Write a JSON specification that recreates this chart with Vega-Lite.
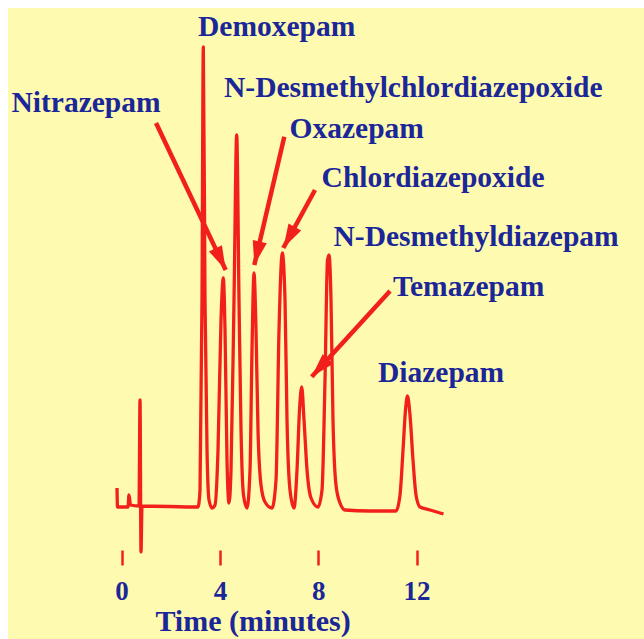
{
  "$schema": "https://vega.github.io/schema/vega-lite/v6.json",
  "width": 636,
  "height": 631,
  "autosize": {"type": "none"},
  "padding": {"left": 8, "top": 8, "right": 0, "bottom": 0},
  "background": "#FFFFFF",
  "config": {"view": {"fill": "#FEFBB0", "stroke": null}},
  "datasets": {
    "trace": [
      {"t": -0.187, "v": 18}, {"t": -0.167, "v": -1}, {"t": 0.26, "v": -1}, {"t": 0.30, "v": 11},
      {"t": 0.362, "v": 1}, {"t": 0.708, "v": 0}, {"t": 0.749, "v": 106}, {"t": 0.789, "v": -46},
      {"t": 0.83, "v": 0}, {"t": 3.108, "v": -1}, {"t": 3.19, "v": 16}, {"t": 3.271, "v": 206},
      {"t": 3.324, "v": 459}, {"t": 3.393, "v": 206}, {"t": 3.475, "v": 56}, {"t": 3.556, "v": 6},
      {"t": 3.678, "v": -2}, {"t": 3.8, "v": 1}, {"t": 3.922, "v": 56}, {"t": 4.044, "v": 186},
      {"t": 4.138, "v": 228}, {"t": 4.207, "v": 176}, {"t": 4.288, "v": 46}, {"t": 4.369, "v": 3},
      {"t": 4.451, "v": 36}, {"t": 4.573, "v": 206}, {"t": 4.683, "v": 371}, {"t": 4.776, "v": 206},
      {"t": 4.858, "v": 76}, {"t": 4.959, "v": 11}, {"t": 5.102, "v": -2}, {"t": 5.224, "v": 36},
      {"t": 5.305, "v": 156}, {"t": 5.386, "v": 233}, {"t": 5.468, "v": 176}, {"t": 5.549, "v": 76},
      {"t": 5.671, "v": 21}, {"t": 5.834, "v": 4}, {"t": 6.119, "v": -2}, {"t": 6.282, "v": 26},
      {"t": 6.404, "v": 176}, {"t": 6.538, "v": 253}, {"t": 6.648, "v": 206}, {"t": 6.729, "v": 86},
      {"t": 6.851, "v": 16}, {"t": 7.014, "v": -2}, {"t": 7.136, "v": 36}, {"t": 7.238, "v": 96},
      {"t": 7.327, "v": 119}, {"t": 7.421, "v": 86}, {"t": 7.543, "v": 36}, {"t": 7.706, "v": 8},
      {"t": 7.99, "v": -1}, {"t": 8.153, "v": 16}, {"t": 8.275, "v": 126}, {"t": 8.377, "v": 246},
      {"t": 8.438, "v": 251}, {"t": 8.519, "v": 206}, {"t": 8.6, "v": 86}, {"t": 8.722, "v": 21},
      {"t": 8.885, "v": 3}, {"t": 9.089, "v": -4}, {"t": 10.106, "v": -5}, {"t": 11.164, "v": -5},
      {"t": 11.327, "v": 11}, {"t": 11.449, "v": 56}, {"t": 11.55, "v": 96}, {"t": 11.631, "v": 110},
      {"t": 11.733, "v": 91}, {"t": 11.855, "v": 46}, {"t": 11.977, "v": 11}, {"t": 12.14, "v": -1},
      {"t": 12.547, "v": -4}, {"t": 13.096, "v": -8}
    ],
    "arrows": [
      {"name": "Nitrazepam", "t1": 1.4, "v1": 383, "t2": 4.235, "v2": 236},
      {"name": "Oxazepam", "t1": 6.619, "v1": 369.3, "t2": 5.399, "v2": 241},
      {"name": "Chlordiazepoxide", "t1": 7.868, "v1": 316, "t2": 6.579, "v2": 258},
      {"name": "Temazepam", "t1": 10.92, "v1": 215, "t2": 7.734, "v2": 129.3}
    ],
    "labels": [
      {"label": "Nitrazepam", "tx": -4.479, "ty": 394},
      {"label": "Demoxepam", "tx": 3.108, "ty": 470},
      {"label": "N-Desmethylchlordiazepoxide", "tx": 4.166, "ty": 409.5},
      {"label": "Oxazepam", "tx": 6.831, "ty": 368.4},
      {"label": "Chlordiazepoxide", "tx": 8.137, "ty": 319},
      {"label": "N-Desmethyldiazepam", "tx": 8.621, "ty": 259.6},
      {"label": "Temazepam", "tx": 11.041, "ty": 210.3},
      {"label": "Diazepam", "tx": 10.431, "ty": 124}
    ]
  },
  "layer": [
    {
      "data": {"name": "trace"},
      "mark": {"type": "line", "color": "#F2201C", "strokeWidth": 3.3, "strokeJoin": "round", "interpolate": "monotone"},
      "encoding": {
        "x": {
          "field": "t", "type": "quantitative",
          "scale": {"domain": [-4.622, 21.253], "nice": false, "zero": false},
          "title": "Time (minutes)",
          "axis": {
            "values": [0, 4, 8, 12],
            "offset": -89,
            "domain": false,
            "grid": false,
            "ticks": true,
            "tickColor": "#F2201C",
            "tickSize": 15,
            "tickWidth": 2.5,
            "labelFont": "Liberation Serif",
            "labelFontWeight": "bold",
            "labelFontSize": 27,
            "labelColor": "#1B2699",
            "labelPadding": 13,
            "labelFlush": false,
            "titleFont": "Liberation Serif",
            "titleFontWeight": "bold",
            "titleFontSize": 30,
            "titleColor": "#1B2699",
            "titleX": 244.5,
            "titleY": 80,
            "titleAlign": "center",
            "titleBaseline": "alphabetic",
            "titleAnchor": null
          }
        },
        "y": {
          "field": "v", "type": "quantitative",
          "scale": {"domain": [-133, 498], "nice": false, "zero": false},
          "axis": null
        }
      }
    },
    {
      "data": {"name": "arrows"},
      "mark": {"type": "rule", "color": "#F2201C", "strokeWidth": 4.5},
      "encoding": {
        "x": {"field": "t1", "type": "quantitative", "scale": {"domain": [-4.622, 21.253], "nice": false, "zero": false}, "title": "Time (minutes)"},
        "x2": {"field": "t2"},
        "y": {"field": "v1", "type": "quantitative", "scale": {"domain": [-133, 498], "nice": false, "zero": false}, "axis": null},
        "y2": {"field": "v2"}
      }
    },
    {
      "data": {"name": "arrows"},
      "transform": [
        {"calculate": "atan2(24.58 * (datum.t2 - datum.t1), datum.v2 - datum.v1) * 180 / PI", "as": "ang"}
      ],
      "mark": {"type": "point", "shape": "M0,0L0.3,1L-0.3,1Z", "filled": true, "color": "#F2201C", "opacity": 1, "size": 2304, "strokeWidth": 0},
      "encoding": {
        "x": {"field": "t2", "type": "quantitative", "scale": {"domain": [-4.622, 21.253], "nice": false, "zero": false}, "title": "Time (minutes)"},
        "y": {"field": "v2", "type": "quantitative", "scale": {"domain": [-133, 498], "nice": false, "zero": false}, "axis": null},
        "angle": {"field": "ang", "type": "quantitative", "scale": null}
      }
    },
    {
      "data": {"name": "labels"},
      "mark": {"type": "text", "align": "left", "baseline": "alphabetic", "font": "Liberation Serif", "fontWeight": "bold", "fontSize": 29.5, "color": "#1B2699"},
      "encoding": {
        "x": {"field": "tx", "type": "quantitative", "scale": {"domain": [-4.622, 21.253], "nice": false, "zero": false}, "title": "Time (minutes)"},
        "y": {"field": "ty", "type": "quantitative", "scale": {"domain": [-133, 498], "nice": false, "zero": false}, "axis": null},
        "text": {"field": "label", "type": "nominal"}
      }
    }
  ]
}
